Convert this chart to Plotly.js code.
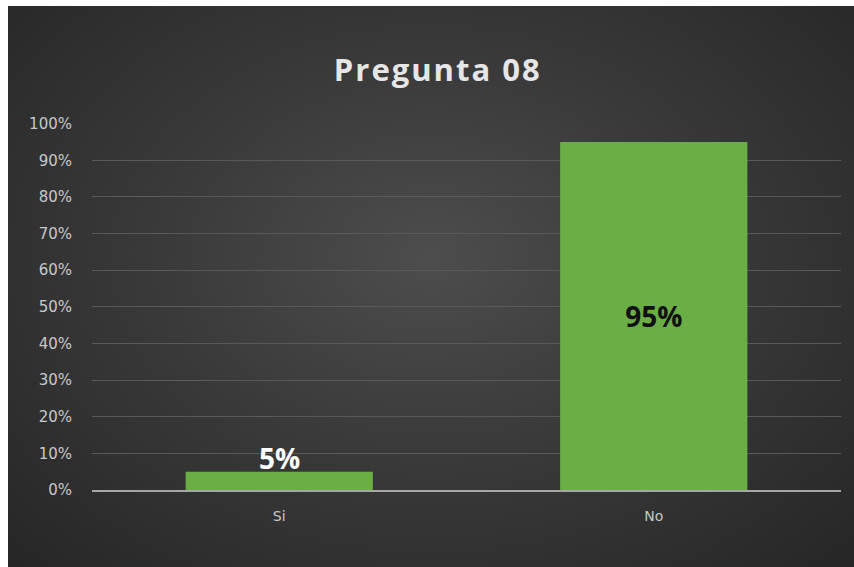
<!DOCTYPE html>
<html>
<head>
<meta charset="utf-8">
<script src="https://cdn.plot.ly/plotly-3.0.1.min.js"></script>
<style>
  html, body { margin: 0; padding: 0; background: #ffffff; }
  #chart {
    position: absolute; left: 8px; top: 6px; width: 846px; height: 561px;
    background: radial-gradient(ellipse at 50% 45%, #4d4d4d 0%, #3a3a3a 45%, #262626 100%);
  }
  #chart .gtitle { letter-spacing: 2px; }
</style>
</head>
<body>
<div id="chart"></div>
<script>
const categories = ['Si', 'No'];
const values = [0.05, 0.95];
const labels = ['5%', '95%'];
const labelInside = [false, true];
const yTickVals = [0, 0.1, 0.2, 0.3, 0.4, 0.5, 0.6, 0.7, 0.8, 0.9, 1.0];
const yTickText = ['0%', '10%', '20%', '30%', '40%', '50%', '60%', '70%', '80%', '90%', '100%'];

const labelFont = { family: 'Open Sans, sans-serif', size: 28, weight: 'bold' };

const trace = {
  type: 'bar',
  x: categories,
  y: values,
  text: labels,
  textposition: labelInside.map(v => v ? 'inside' : 'none'),
  insidetextanchor: 'middle',
  textfont: Object.assign({ color: '#111111' }, labelFont),
  constraintext: 'none',
  cliponaxis: false,
  marker: { color: '#6aae45', line: { width: 0 } },
  width: 0.5,
  hoverinfo: 'none'
};

const annotations = categories
  .map((c, i) => ({ c, i }))
  .filter(o => !labelInside[o.i])
  .map(o => ({
    x: categories[o.i], y: values[o.i], xref: 'x', yref: 'y',
    text: labels[o.i], showarrow: false,
    xanchor: 'center', yanchor: 'bottom', yshift: -7,
    font: Object.assign({ color: '#ffffff' }, labelFont)
  }));

const layout = {
  width: 846, height: 561,
  paper_bgcolor: 'rgba(0,0,0,0)',
  plot_bgcolor: 'rgba(0,0,0,0)',
  margin: { l: 84, r: 13, t: 117, b: 77 },
  showlegend: false,
  title: {
    text: 'Pregunta 08',
    font: { family: 'Open Sans, sans-serif', size: 31, color: '#e6e6e6', weight: 'bold' },
    x: 0.508, xanchor: 'center', y: 0.885, yanchor: 'middle', xref: 'container', yref: 'container'
  },
  annotations: annotations,
  xaxis: {
    type: 'category',
    showgrid: false,
    showline: true, linecolor: '#a6a6a6', linewidth: 2,
    ticks: '', ticklabelstandoff: 12,
    tickfont: { family: 'DejaVu Sans, sans-serif', size: 14, color: '#c8c8c8' },
    zeroline: false, fixedrange: true
  },
  yaxis: {
    range: [0, 1.002],
    tickvals: yTickVals, ticktext: yTickText,
    showgrid: true, gridcolor: '#595959', gridwidth: 1,
    zeroline: false, showline: false, ticks: '',
    ticklabelstandoff: 19,
    tickfont: { family: 'DejaVu Sans, sans-serif', size: 15, color: '#c8c8c8' },
    fixedrange: true
  }
};

Plotly.newPlot('chart', [trace], layout, { displayModeBar: false, staticPlot: true });
</script>
</body>
</html>
